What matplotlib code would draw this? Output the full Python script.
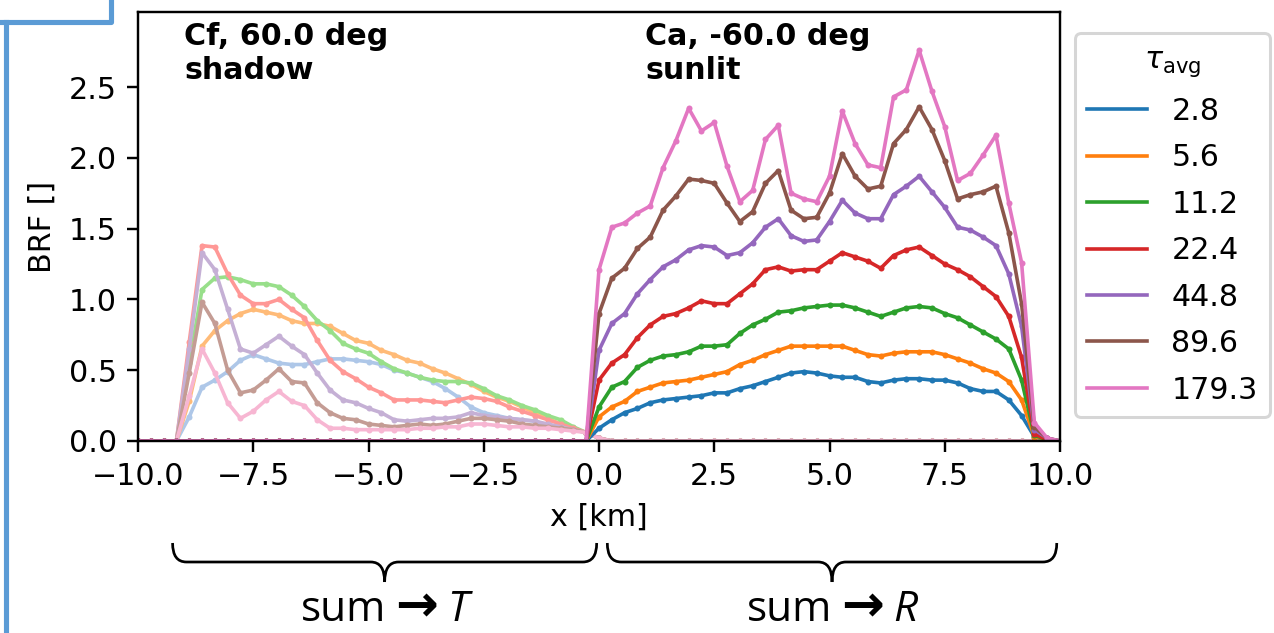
import numpy as np
import matplotlib
matplotlib.use("Agg")
import matplotlib.pyplot as plt
from matplotlib.path import Path
from matplotlib.patches import PathPatch
from matplotlib.lines import Line2D
from matplotlib.offsetbox import TextArea, HPacker, AnnotationBbox
from matplotlib.transforms import blended_transform_factory

# grid of the cross-section, 73 points from -10 to 10 km
x = np.linspace(-10, 10, 73)

taus = ['2.8', '5.6', '11.2', '22.4', '44.8', '89.6', '179.3']

# sunlit side (x = 0 ... 10 km), one value per grid point
blue_r = [0.09, 0.15, 0.20, 0.23, 0.27, 0.29, 0.30, 0.31, 0.32, 0.34, 0.34, 0.37, 0.39,
          0.42, 0.45, 0.48, 0.49, 0.48, 0.46, 0.45, 0.45, 0.42, 0.41, 0.43, 0.44, 0.44,
          0.43, 0.43, 0.41, 0.37, 0.35, 0.35, 0.29, 0.18, 0.03, 0.01, 0.0]
orange_r = [0.17, 0.24, 0.28, 0.35, 0.38, 0.41, 0.42, 0.43, 0.45, 0.47, 0.49, 0.54, 0.57,
            0.61, 0.64, 0.67, 0.67, 0.67, 0.67, 0.67, 0.64, 0.61, 0.60, 0.62, 0.63, 0.63,
            0.63, 0.61, 0.58, 0.55, 0.51, 0.48, 0.42, 0.29, 0.03, 0.01, 0.0]
green_r = [0.24, 0.38, 0.42, 0.52, 0.57, 0.60, 0.61, 0.63, 0.67, 0.67, 0.68, 0.76, 0.82,
           0.86, 0.91, 0.92, 0.94, 0.95, 0.96, 0.96, 0.94, 0.91, 0.88, 0.91, 0.94, 0.95,
           0.94, 0.90, 0.87, 0.82, 0.77, 0.72, 0.65, 0.43, 0.04, 0.01, 0.0]
red_r = [0.43, 0.55, 0.61, 0.73, 0.82, 0.88, 0.90, 0.94, 0.99, 0.97, 0.97, 1.04, 1.11,
         1.21, 1.23, 1.20, 1.21, 1.21, 1.27, 1.33, 1.30, 1.27, 1.22, 1.31, 1.35, 1.37,
         1.31, 1.25, 1.21, 1.16, 1.09, 1.02, 0.88, 0.59, 0.05, 0.01, 0.0]
purple_r = [0.64, 0.83, 0.90, 1.04, 1.14, 1.23, 1.28, 1.35, 1.38, 1.37, 1.31, 1.33, 1.40,
            1.51, 1.57, 1.45, 1.41, 1.42, 1.55, 1.70, 1.61, 1.57, 1.57, 1.74, 1.80, 1.87,
            1.76, 1.65, 1.51, 1.49, 1.44, 1.38, 1.18, 0.81, 0.08, 0.02, 0.0]
brown_r = [0.90, 1.15, 1.22, 1.36, 1.44, 1.63, 1.73, 1.85, 1.84, 1.82, 1.68, 1.55, 1.62,
           1.82, 1.91, 1.63, 1.57, 1.58, 1.75, 2.03, 1.87, 1.78, 1.80, 2.10, 2.20, 2.36,
           2.20, 1.98, 1.71, 1.74, 1.76, 1.80, 1.47, 0.97, 0.10, 0.02, 0.0]
pink_r = [1.21, 1.51, 1.54, 1.61, 1.66, 1.93, 2.12, 2.35, 2.19, 2.25, 1.94, 1.69, 1.77,
          2.13, 2.23, 1.75, 1.71, 1.69, 1.87, 2.33, 2.10, 1.95, 1.93, 2.43, 2.48, 2.76,
          2.47, 2.22, 1.84, 1.89, 2.02, 2.16, 1.68, 1.26, 0.13, 0.02, 0.0]

# shadow side (x = -10 ... 0 km)
blue_l = [0, 0, 0, 0, 0.17, 0.38, 0.43, 0.49, 0.57, 0.61, 0.58, 0.55, 0.54, 0.54, 0.56,
          0.58, 0.58, 0.57, 0.56, 0.54, 0.50, 0.48, 0.45, 0.42, 0.37, 0.31, 0.24, 0.20,
          0.18, 0.16, 0.15, 0.14, 0.11, 0.10, 0.08, 0.06, 0.02]
orange_l = [0, 0, 0, 0, 0.28, 0.67, 0.78, 0.85, 0.90, 0.93, 0.91, 0.89, 0.85, 0.83, 0.83,
            0.81, 0.76, 0.71, 0.69, 0.64, 0.61, 0.57, 0.55, 0.51, 0.48, 0.44, 0.40, 0.35,
            0.31, 0.28, 0.24, 0.20, 0.16, 0.12, 0.09, 0.06, 0.02]
green_l = [0, 0, 0, 0, 0.55, 1.07, 1.15, 1.16, 1.14, 1.11, 1.11, 1.09, 1.03, 0.95, 0.85,
           0.78, 0.69, 0.65, 0.62, 0.56, 0.51, 0.48, 0.45, 0.43, 0.42, 0.42, 0.41, 0.37,
           0.32, 0.29, 0.25, 0.22, 0.18, 0.15, 0.10, 0.06, 0.02]
red_l = [0, 0, 0, 0, 0.70, 1.38, 1.37, 1.18, 1.03, 0.97, 0.97, 1.00, 0.93, 0.87, 0.71,
         0.57, 0.49, 0.44, 0.38, 0.34, 0.29, 0.29, 0.29, 0.28, 0.27, 0.29, 0.31, 0.30,
         0.28, 0.24, 0.21, 0.18, 0.15, 0.12, 0.09, 0.06, 0.02]
purple_l = [0, 0, 0, 0, 0.65, 1.33, 1.21, 0.93, 0.65, 0.62, 0.68, 0.74, 0.67, 0.61, 0.48,
            0.36, 0.29, 0.27, 0.23, 0.20, 0.15, 0.14, 0.15, 0.16, 0.16, 0.17, 0.20, 0.18,
            0.17, 0.16, 0.15, 0.14, 0.12, 0.10, 0.08, 0.06, 0.02]
brown_l = [0, 0, 0, 0, 0.48, 0.98, 0.83, 0.50, 0.34, 0.36, 0.43, 0.51, 0.42, 0.41, 0.27,
           0.20, 0.16, 0.15, 0.12, 0.11, 0.10, 0.11, 0.12, 0.11, 0.12, 0.14, 0.16, 0.16,
           0.15, 0.14, 0.12, 0.11, 0.10, 0.09, 0.08, 0.06, 0.02]
pink_l = [0, 0, 0, 0, 0.32, 0.65, 0.48, 0.27, 0.16, 0.21, 0.29, 0.35, 0.28, 0.25, 0.15,
          0.09, 0.09, 0.08, 0.08, 0.08, 0.08, 0.08, 0.09, 0.09, 0.10, 0.10, 0.12, 0.12,
          0.11, 0.10, 0.10, 0.09, 0.09, 0.08, 0.07, 0.06, 0.02]

sunlit = [blue_r, orange_r, green_r, red_r, purple_r, brown_r, pink_r]
shadow = [blue_l, orange_l, green_l, red_l, purple_l, brown_l, pink_l]

# brace spans below the axis (km) and what each sum gives
brace_spans = [(-9.25, -0.05), (0.18, 9.93)]
brace_labels = ['T', 'R']

dark = plt.get_cmap('tab10').colors[:7]
light = plt.get_cmap('tab20').colors[1::2][:7]

W, H, DPI = 1274, 633, 217
fig = plt.figure(figsize=(W / DPI, H / DPI), dpi=DPI)
ax = fig.add_axes([138 / W, 1 - 441 / H, (1060 - 138) / W, (441 - 12) / H])

n_half = len(x) // 2
for k in range(7):
    y = np.concatenate([shadow[k], np.zeros(n_half)])
    ax.plot(x, y, color=light[k], lw=1.2)
    ax.plot(x, y, 'o', color=light[k], ms=2.0, mew=0)

for k in range(7):
    y = np.concatenate([np.zeros(n_half), sunlit[k]])
    ax.plot(x, y, color=dark[k], lw=1.2, label=taus[k])
    ax.plot(x, y, 'o', color=dark[k], ms=2.0, mew=0)

ax.set_xlim(-10, 10)
ax.set_ylim(0, 3.03)
ax.set_xticks(np.arange(-10, 10.1, 2.5))
ax.set_yticks(np.arange(0, 2.6, 0.5))
ax.set_xlabel('x [km]')
ax.set_ylabel('BRF []')

ax.text(-9, 2.96, 'Cf, 60.0 deg\nshadow', fontweight='bold', va='top')
ax.text(1, 2.96, 'Ca, -60.0 deg\nsunlit', fontweight='bold', va='top')

ax.legend(title=r'$\tau_{\mathrm{avg}}$', loc='upper left',
          bbox_to_anchor=(1075 / W, 1 - 33 / H), bbox_transform=fig.transFigure,
          borderaxespad=0, labelspacing=0.58)

# curly braces under the x axis
tr = blended_transform_factory(ax.transData, fig.transFigure)
y_top, y_mid, y_tip = 1 - 543 / H, 1 - 562 / H, 1 - 582 / H
r = 0.3
for (x0, x1), lab in zip(brace_spans, brace_labels):
    xm = (x0 + x1) / 2
    verts = [(x0, y_top), (x0, y_mid), (x0 + r, y_mid),
             (xm - r, y_mid), (xm, y_mid), (xm, y_tip),
             (xm, y_tip), (xm, y_mid), (xm + r, y_mid),
             (x1 - r, y_mid), (x1, y_mid), (x1, y_top)]
    codes = [Path.MOVETO, Path.CURVE3, Path.CURVE3,
             Path.LINETO, Path.CURVE3, Path.CURVE3,
             Path.MOVETO, Path.CURVE3, Path.CURVE3,
             Path.LINETO, Path.CURVE3, Path.CURVE3]
    ax.add_patch(PathPatch(Path(verts, codes), fill=False, lw=0.9, color='black',
                           transform=tr, clip_on=False))

    parts = [TextArea('sum', textprops=dict(fontsize=14, family='Open Sans')),
             TextArea('\u2192', textprops=dict(fontsize=17, family='DejaVu Sans',
                                               fontweight='bold')),
             TextArea(lab, textprops=dict(fontsize=14, family='Open Sans',
                                          style='italic'))]
    box = HPacker(children=parts, sep=3, align='baseline', pad=0)
    ab = AnnotationBbox(box, (xm, 1 - 607 / H), xycoords=tr, frameon=False,
                        box_alignment=(0.5, 0.5), annotation_clip=False)
    ax.add_artist(ab)

# blue frame lines from the slide
blue = '#5b9bd5'
fig.add_artist(Line2D([0, 110.5 / W, 110.5 / W], [1 - 22 / H, 1 - 22 / H, 1],
                      color=blue, lw=1.7, transform=fig.transFigure))
fig.add_artist(Line2D([5.5 / W, 5.5 / W], [1 - 22 / H, 0],
                      color=blue, lw=1.7, transform=fig.transFigure))

fig.savefig('out.png', dpi=DPI)
